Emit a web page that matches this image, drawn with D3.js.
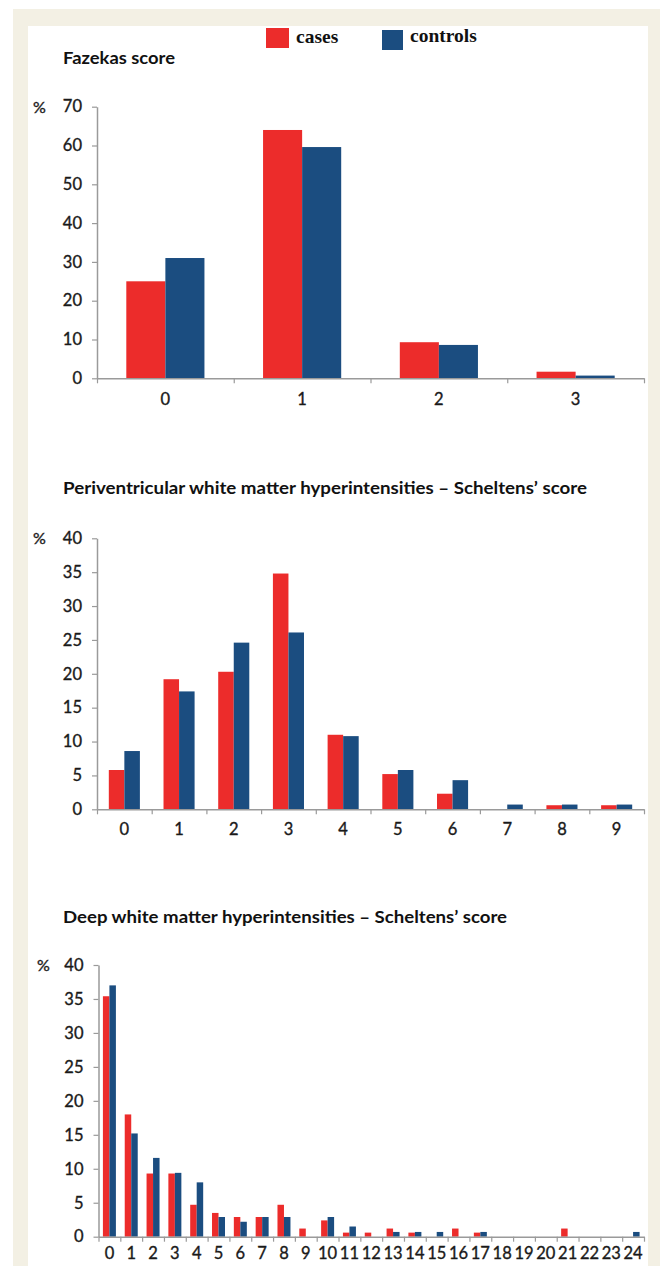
<!DOCTYPE html>
<html>
<head>
<meta charset="utf-8">
<script src="https://cdn.jsdelivr.net/npm/d3@7"></script>
<style>
  html, body { margin: 0; padding: 0; background: #ffffff; }
  svg { display: block; }
  text { font-family: Lato, "Open Sans", sans-serif; }
</style>
</head>
<body>
<svg id="chart" width="660" height="1266"></svg>
<script>
// ---------- data ----------
const seriesNames = ["cases", "controls"];
const seriesColors = ["#ec2c2b", "#1b4d80"];

const fazekasTitle = "Fazekas score";
const fazekasCategories = ["0", "1", "2", "3"];
const fazekasCases = [25, 64, 9.3, 1.7];
const fazekasControls = [31, 59.6, 8.6, 0.7];
const fazekasTicks = [0, 10, 20, 30, 40, 50, 60, 70];

const pvTitle = "Periventricular white matter hyperintensities \u2013 Scheltens\u2019 score";
const pvCategories = ["0", "1", "2", "3", "4", "5", "6", "7", "8", "9"];
const pvCases = [5.8, 19.2, 20.3, 34.8, 11.0, 5.2, 2.3, 0, 0.6, 0.6];
const pvControls = [8.6, 17.4, 24.6, 26.1, 10.8, 5.8, 4.3, 0.7, 0.7, 0.7];
const pvTicks = [0, 5, 10, 15, 20, 25, 30, 35, 40];

const dwTitle = "Deep white matter hyperintensities \u2013 Scheltens\u2019 score";
const dwCategories = ["0","1","2","3","4","5","6","7","8","9","10","11","12","13","14","15","16","17","18","19","20","21","22","23","24"];
const dwCases = [35.4, 18.0, 9.3, 9.3, 4.7, 3.5, 2.9, 2.9, 4.7, 1.2, 2.4, 0.6, 0.6, 1.2, 0.6, 0, 1.2, 0.6, 0, 0, 0, 1.2, 0, 0, 0];
const dwControls = [37.0, 15.2, 11.6, 9.4, 8.0, 2.9, 2.2, 2.9, 2.9, 0, 2.9, 1.5, 0, 0.7, 0.7, 0.7, 0, 0.7, 0, 0, 0, 0, 0, 0, 0.7];
const dwTicks = [0, 5, 10, 15, 20, 25, 30, 35, 40];

// ---------- frame ----------
const svg = d3.select("#chart");
svg.append("rect").attr("x", 13).attr("y", 9).attr("width", 647).attr("height", 1257).attr("fill", "#f3f0e4");
svg.append("rect").attr("x", 28).attr("y", 26).attr("width", 620).attr("height", 1240).attr("fill", "#ffffff");

// ---------- legend ----------
const legend = svg.append("g");
const legendItems = [
  { name: seriesNames[0], color: seriesColors[0], rx: 266, ry: 28, rw: 23, rh: 20, tx: 296, ty: 43 },
  { name: seriesNames[1], color: seriesColors[1], rx: 382, ry: 30, rw: 21, rh: 20, tx: 410, ty: 42 }
];
legendItems.forEach(d => {
  legend.append("rect").attr("x", d.rx).attr("y", d.ry).attr("width", d.rw).attr("height", d.rh).attr("fill", d.color);
  legend.append("text").attr("x", d.tx).attr("y", d.ty)
    .style("font-family", "'Liberation Serif', 'Times New Roman', serif")
    .style("font-weight", "bold").style("font-size", "19.5px").attr("fill", "#111")
    .text(d.name);
});

// ---------- chart drawer ----------
function drawChart(cfg) {
  const g = svg.append("g");
  const x = d3.scaleBand().domain(cfg.categories).range([cfg.left, cfg.right]).padding(0);
  const xs = d3.scaleBand().domain(seriesNames).range([0, x.bandwidth()])
    .paddingInner(0).paddingOuter(cfg.outerPad);
  const y = d3.scaleLinear().domain([0, d3.max(cfg.ticks)]).range([cfg.bottom, cfg.top]);
  const xb = d3.scaleLinear().domain([0, cfg.categories.length]).range([cfg.left, cfg.right]);

  // title
  g.append("text").attr("x", cfg.titleX).attr("y", cfg.titleY)
    .style("font-weight", "bold").style("font-size", "17px").attr("fill", "#111")
    .attr("textLength", cfg.titleWidth).attr("lengthAdjust", "spacingAndGlyphs")
    .text(cfg.title);

  // "%" label
  g.append("text").attr("x", cfg.pctX).attr("y", y(d3.max(cfg.ticks)) + 6)
    .style("font-size", "16px").attr("fill", "#1a1a1a")
    .attr("stroke", "#1a1a1a").attr("stroke-width", 0.35).text("%");

  // bars
  const rows = cfg.categories.map((c, i) => ({ cat: c, vals: [cfg.cases[i], cfg.controls[i]] }));
  const grp = g.selectAll("g.cat").data(rows).join("g").attr("class", "cat")
    .attr("transform", d => `translate(${x(d.cat)},0)`);
  grp.selectAll("rect").data(d => d.vals.map((v, k) => ({ s: seriesNames[k], v, k })))
    .join("rect")
    .attr("x", d => xs(d.s))
    .attr("width", xs.bandwidth())
    .attr("y", d => y(d.v))
    .attr("height", d => y(0) - y(d.v))
    .attr("fill", d => seriesColors[d.k]);

  // y axis
  const ya = g.append("g").attr("transform", `translate(${cfg.left},0)`)
    .call(d3.axisLeft(y).tickValues(cfg.ticks).tickSize(5).tickSizeOuter(0).tickPadding(10));
  ya.select(".domain").attr("stroke", "#9a9a9a").attr("stroke-width", 1.5);
  ya.selectAll(".tick line").attr("stroke", "#9a9a9a").attr("stroke-width", 1.2);
  ya.selectAll(".tick text").style("font-size", "16.5px").style("font-family", "Lato, 'Open Sans', sans-serif")
    .attr("fill", "#1a1a1a").attr("stroke", "#1a1a1a").attr("stroke-width", 0.35);

  // x axis line + boundary ticks
  const xa = g.append("g").attr("transform", `translate(0,${cfg.bottom})`)
    .call(d3.axisBottom(xb).tickValues(d3.range(cfg.categories.length + 1)).tickFormat("").tickSize(5).tickSizeOuter(0));
  xa.select(".domain").attr("stroke", "#9a9a9a").attr("stroke-width", 1.5);
  xa.selectAll(".tick line").attr("stroke", "#9a9a9a").attr("stroke-width", 1.2);

  // x category labels
  const xl = g.append("g").attr("transform", `translate(0,${cfg.bottom})`)
    .call(d3.axisBottom(x).tickSize(0).tickPadding(cfg.labelPad));
  xl.select(".domain").remove();
  xl.selectAll(".tick text").style("font-size", "16.5px").style("font-family", "Lato, 'Open Sans', sans-serif")
    .attr("fill", "#1a1a1a").attr("stroke", "#1a1a1a").attr("stroke-width", 0.35);
}

drawChart({
  title: fazekasTitle, titleX: 63, titleY: 64, titleWidth: 112,
  categories: fazekasCategories, cases: fazekasCases, controls: fazekasControls, ticks: fazekasTicks,
  left: 97, right: 644, top: 106.7, bottom: 378.3, outerPad: 0.75, pctX: 33, labelPad: 15
});

drawChart({
  title: pvTitle, titleX: 63, titleY: 494, titleWidth: 524,
  categories: pvCategories, cases: pvCases, controls: pvControls, ticks: pvTicks,
  left: 97, right: 644, top: 538.3, bottom: 809.3, outerPad: 0.76, pctX: 33, labelPad: 14
});

drawChart({
  title: dwTitle, titleX: 63, titleY: 923, titleWidth: 444,
  categories: dwCategories, cases: dwCases, controls: dwControls, ticks: dwTicks,
  left: 98.5, right: 644, top: 965, bottom: 1236.7, outerPad: 0.68, pctX: 37, labelPad: 11
});
</script>
</body>
</html>
